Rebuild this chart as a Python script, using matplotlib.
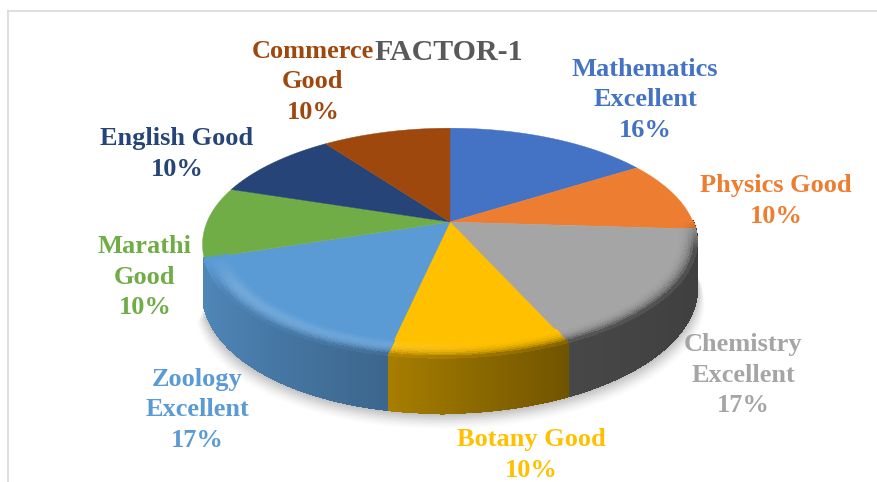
import numpy as np
import matplotlib
matplotlib.use('Agg')
import matplotlib.pyplot as plt
from matplotlib.collections import PolyCollection
from matplotlib.colors import to_rgb

categories = ['Mathematics\nExcellent', 'Physics Good', 'Chemistry\nExcellent', 'Botany Good',
              'Zoology\nExcellent', 'Marathi\nGood', 'English Good', 'Commerce\nGood']
values = [16, 10, 17, 10, 17, 10, 10, 10]
colors = ['#4472C4', '#ED7D31', '#A5A5A5', '#FFC000', '#5B9BD5', '#70AD47', '#264478', '#9E480E']
label_pos = [(645, 100), (776, 201), (743, 375), (531, 455), (197, 410), (145, 277), (177, 154), (313, 82)]

plt.rcParams['font.family'] = ['Liberation Serif', 'DejaVu Serif']
fig = plt.figure(figsize=(8.78, 4.82), dpi=100)
ax = fig.add_axes([0, 0, 1, 1])
ax.set_xlim(0, 878)
ax.set_ylim(482, 0)
ax.axis('off')

# perspective of the pie disc, in pixels
cx, cy = 450, 222
A, B, k = 243, 111, 0.183


def project(theta, r=1.0, drop=False):
    # theta runs clockwise from 12 o'clock
    u = r * np.sin(theta)
    v = r * np.cos(theta)
    x = cx + A * u / (1 + k * v) - 8 * np.minimum(v, 0) ** 2
    y = cy - B * v / (1 + k * v)
    if drop:
        y = y + 45 - 10 * v
    return x, y


def side_shade(u):
    return np.interp(u, [-1, -0.2, 0.45, 1], [0.88, 0.66, 0.43, 0.38])


def is_front(u, v):
    # the wall only shows from the zoology edge round to the physics edge
    return v < -0.31 if u < 0 else v < 0


edges = np.radians(np.cumsum([0] + values) * 3.6)
fine = np.radians(np.arange(90, 253, 1.0))

# soft shadow under the wall
for grow, alpha in zip(np.linspace(16, 0, 12), np.linspace(0.012, 0.04, 12)):
    sx, sy = project(fine, 1.0, drop=True)
    ax.fill(np.r_[sx + grow * np.sin(fine) * 0.5, cx], np.r_[sy + grow, cy], color='black',
            alpha=alpha, lw=0, zorder=1)

# side wall
polys, cols = [], []
for i, val in enumerate(values):
    t = np.linspace(edges[i], edges[i + 1], int(val * 3.6 * 1.5) + 2)
    base = np.array(to_rgb(colors[i]))
    for a, b in zip(t[:-1], t[1:]):
        mid = (a + b) / 2
        if not is_front(np.sin(mid), np.cos(mid)):
            continue
        x1, y1 = project(a)
        x2, y2 = project(b)
        x3, y3 = project(b, drop=True)
        x4, y4 = project(a, drop=True)
        polys.append([(x1, y1), (x2, y2), (x3, y3), (x4, y4)])
        cols.append(base * side_shade(np.sin(mid)))
ax.add_collection(PolyCollection(polys, facecolors=cols, edgecolors=cols, linewidths=1.0,
                                 antialiased=False, zorder=2))

# flat top
for i, val in enumerate(values):
    t = np.linspace(edges[i], edges[i + 1], 80)
    x, y = project(t)
    ax.fill(np.r_[cx, x], np.r_[cy, y], color=colors[i], lw=0.3, zorder=3)

# bevel on the front rim
bands = np.linspace(0.91, 1.0, 10)
polys, cols = [], []
for i, val in enumerate(values):
    t = np.linspace(edges[i], edges[i + 1], int(val * 3.6 * 1.5) + 2)
    base = np.array(to_rgb(colors[i]))
    for a, b in zip(t[:-1], t[1:]):
        mid = (a + b) / 2
        u = np.sin(mid)
        v = np.cos(mid)
        if not is_front(u, v):
            continue
        start = -0.31 if u < 0 else 0.0
        w = np.clip((start - v) / 0.25, 0, 1)
        hl = np.interp(u, [-1, -0.2, 0.2], [0.18, 0.12, 0.0])
        side = base * side_shade(u)
        for r1, r2 in zip(bands[:-1], bands[1:]):
            s = ((r1 + r2) / 2 - bands[0]) / (bands[-1] - bands[0])
            lit = base + hl * np.sin(np.pi * s) * (1 - base)
            c = lit * (1 - s ** 3) + side * s ** 3
            c = base * (1 - w) + c * w
            pts = [project(a, r1), project(b, r1), project(b, r2), project(a, r2)]
            polys.append(pts)
            cols.append(np.clip(c, 0, 1))
ax.add_collection(PolyCollection(polys, facecolors=cols, edgecolors=cols, linewidths=0.5,
                                 antialiased=False, zorder=4))

# chart frame
ax.plot([8, 8], [482, 11], color='#d9d9d9', lw=1.2, zorder=0)
ax.plot([8, 878], [11, 11], color='#d9d9d9', lw=1.2, zorder=0)

for cat, val, col, pos in zip(categories, values, colors, label_pos):
    ax.text(pos[0], pos[1], f'{cat}\n{val}%', color=col, fontsize=19, fontweight='bold',
            ha='center', va='center', linespacing=1.41, zorder=6)

ax.text(449, 52, 'FACTOR-1', color='#595959', fontsize=21.5, fontweight='bold',
        ha='center', va='center', zorder=6)

fig.savefig('out.png', dpi=100)
